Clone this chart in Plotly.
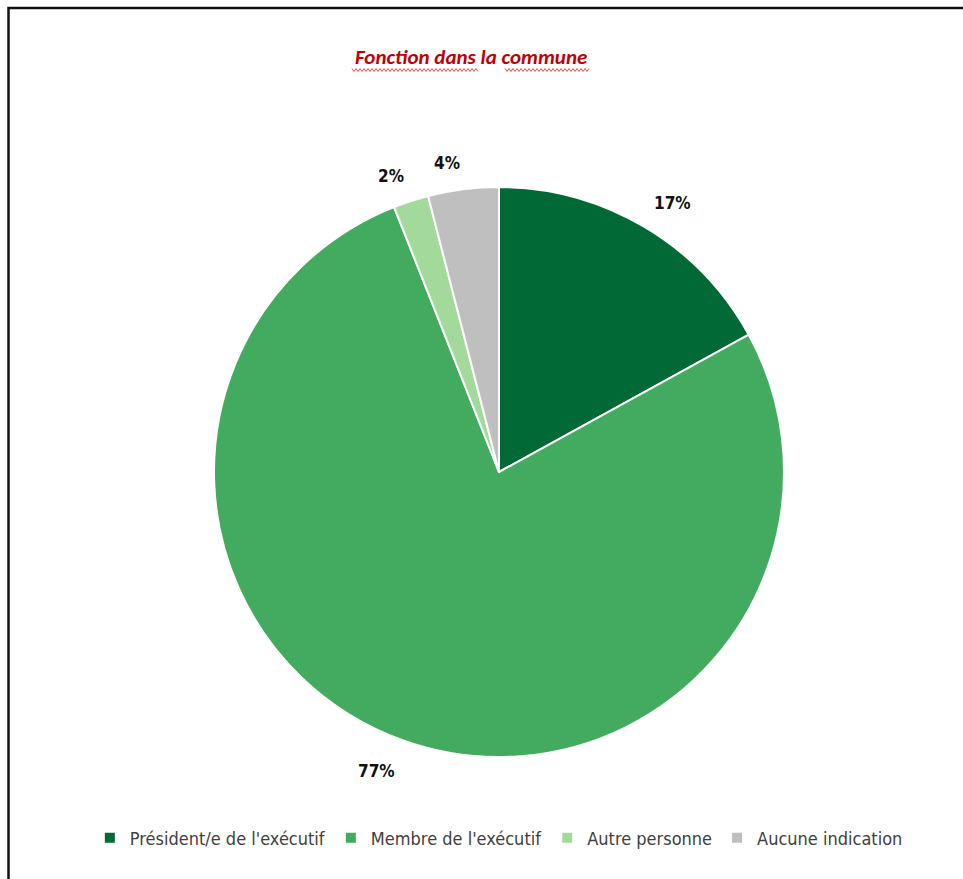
import math
import plotly.graph_objects as go

W, H = 963, 879

# Répartition par fonction dans la commune (en %)
categories = ["Président/e de l'exécutif", "Membre de l'exécutif", "Autre personne", "Aucune indication"]
values = [17, 77, 2, 4]
colors = ["#006935", "#43AB5F", "#A3DA9C", "#BFBFBF"]

# pie geometry in pixels
cx, cy, R = 499, 472, 285
label_gap = 18

LABEL_FONT = "DejaVu Sans Condensed, Liberation Sans, Arial, sans-serif"
LEGEND_FONT = "DejaVu Sans Condensed, Liberation Sans, Arial, sans-serif"


def px_x(x):
    return x / W


def px_y(y):
    return 1 - y / H


fig = go.Figure(go.Pie(
    labels=categories,
    values=values,
    sort=False,
    direction="clockwise",
    rotation=0,
    marker=dict(colors=colors, line=dict(color="white", width=2)),
    textinfo="none",
    showlegend=True,
    domain=dict(x=[px_x(cx - R), px_x(cx + R)], y=[px_y(cy + R), px_y(cy - R)]),
    hoverinfo="label+percent",
))

# percentage labels outside each slice, placed along the slice's mid-angle
total = sum(values)
annotations = []
cum = 0
for v in values:
    mid = (cum + v / 2) / total * 2 * math.pi
    cum += v
    r = R + label_gap
    x = cx + r * math.sin(mid)
    y = cy - r * math.cos(mid) + 3
    annotations.append(dict(
        text=f"<b>{v}%</b>",
        x=px_x(x), y=px_y(y), xref="paper", yref="paper",
        xanchor="left" if math.sin(mid) >= 0 else "right",
        yanchor="bottom" if math.cos(mid) >= 0 else "top",
        showarrow=False, borderpad=0,
        font=dict(family=LABEL_FONT, size=17, color="#111111"),
    ))

# chart title
title_x, title_y = 471, 57
annotations.append(dict(
    text="<b><i>Fonction dans la commune</i></b>",
    x=px_x(title_x), y=px_y(title_y), xref="paper", yref="paper",
    xanchor="center", yanchor="middle", showarrow=False,
    font=dict(family="Carlito, Calibri, Liberation Sans, sans-serif", size=21, color="#C00000"),
))


def wavy(x0, x1, y, amp=1.5, step=2.0):
    pts = []
    n = int((x1 - x0) / step)
    for i in range(n + 1):
        xx = x0 + i * step
        yy = y + (amp if i % 2 else -amp)
        pts.append(f"{px_x(xx):.5f},{px_y(yy):.5f}")
    return "M " + " L ".join(pts)


shapes = [
    # frame on the left and top edges
    dict(type="path", xref="paper", yref="paper",
         path=f"M {px_x(8.5)},0 L {px_x(8.5)},{px_y(8)} L 1,{px_y(8)}",
         line=dict(color="#111111", width=2.5)),
    # spell-check squiggles under the title words
    dict(type="path", xref="paper", yref="paper", path=wavy(352, 478, 70),
         line=dict(color="#E84848", width=1)),
    dict(type="path", xref="paper", yref="paper", path=wavy(505, 590, 70),
         line=dict(color="#E84848", width=1)),
]

fig.update_layout(
    width=W, height=H,
    margin=dict(l=0, r=0, t=0, b=0),
    paper_bgcolor="white",
    plot_bgcolor="white",
    font=dict(family=LEGEND_FONT),
    legend=dict(
        orientation="h",
        x=0.518, xanchor="center",
        y=px_y(838), yanchor="middle",
        font=dict(family=LEGEND_FONT, size=18, color="#404040"),
        itemwidth=30,
        tracegroupgap=0,
    ),
    annotations=annotations,
    shapes=shapes,
)

fig.write_html("out.html")
